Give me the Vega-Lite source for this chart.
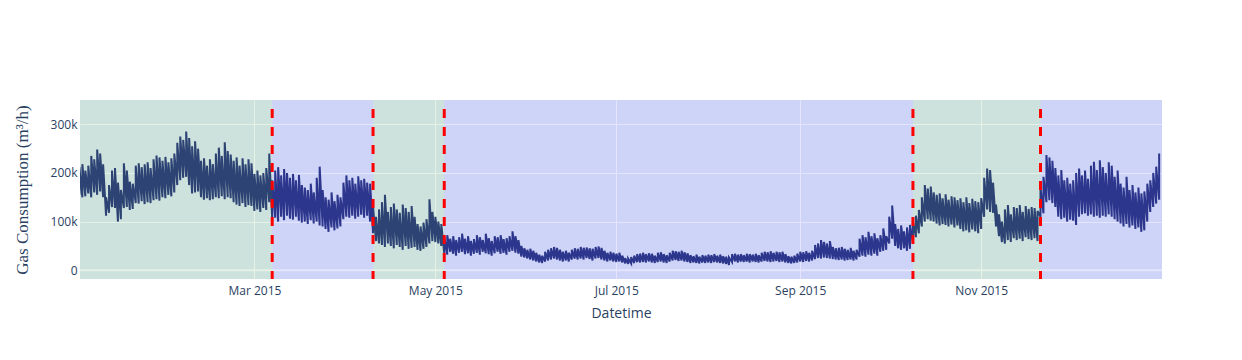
{
"$schema": "https://vega.github.io/schema/vega-lite/v6.json",
"autosize": "none",
"width": 1082,
"height": 179,
"padding": {"left": 80, "top": 100, "right": 80, "bottom": 81},
"background": "white",
"config": {
  "view": {"fill": "#E5ECF6", "stroke": null},
  "axis": {"labelFont": "Open Sans", "labelFontSize": 12, "labelColor": "#2a3f5f", "gridColor": "white", "gridWidth": 1, "domain": false, "ticks": false, "titleColor": "#2a3f5f", "titleFontWeight": "normal"},
  "axisX": {"labelPadding": 6, "titleFont": "Open Sans", "titleFontSize": 14, "titlePadding": 10},
  "axisY": {"labelPadding": 3, "titleFont": "Liberation Serif", "titleFontSize": 17, "titlePadding": 19}
},
"datasets": {
  "gas": [
{"d":"2015-01-01","l":155,"h":212},{"d":"2015-01-02","l":150,"h":218},{"d":"2015-01-03","l":152,"h":205},{"d":"2015-01-04","l":158,"h":215},{"d":"2015-01-05","l":150,"h":235},{"d":"2015-01-06","l":160,"h":228},{"d":"2015-01-07","l":155,"h":248},{"d":"2015-01-08","l":162,"h":240},{"d":"2015-01-09","l":150,"h":218},{"d":"2015-01-10","l":112,"h":150},{"d":"2015-01-11","l":118,"h":175},{"d":"2015-01-12","l":130,"h":205},{"d":"2015-01-13","l":128,"h":210},{"d":"2015-01-14","l":100,"h":180},{"d":"2015-01-15","l":105,"h":165},{"d":"2015-01-16","l":128,"h":220},{"d":"2015-01-17","l":130,"h":205},{"d":"2015-01-18","l":124,"h":182},{"d":"2015-01-19","l":126,"h":178},{"d":"2015-01-20","l":138,"h":215},{"d":"2015-01-21","l":137,"h":220},{"d":"2015-01-22","l":142,"h":212},{"d":"2015-01-23","l":136,"h":218},{"d":"2015-01-24","l":140,"h":222},{"d":"2015-01-25","l":138,"h":210},{"d":"2015-01-26","l":144,"h":228},{"d":"2015-01-27","l":146,"h":236},{"d":"2015-01-28","l":143,"h":232},{"d":"2015-01-29","l":150,"h":225},{"d":"2015-01-30","l":148,"h":233},{"d":"2015-01-31","l":155,"h":222},
{"d":"2015-02-01","l":152,"h":230},{"d":"2015-02-02","l":160,"h":240},{"d":"2015-02-03","l":175,"h":262},{"d":"2015-02-04","l":185,"h":275},{"d":"2015-02-05","l":190,"h":268},{"d":"2015-02-06","l":192,"h":285},{"d":"2015-02-07","l":175,"h":272},{"d":"2015-02-08","l":158,"h":255},{"d":"2015-02-09","l":160,"h":265},{"d":"2015-02-10","l":162,"h":250},{"d":"2015-02-11","l":150,"h":225},{"d":"2015-02-12","l":145,"h":230},{"d":"2015-02-13","l":148,"h":215},{"d":"2015-02-14","l":144,"h":228},{"d":"2015-02-15","l":146,"h":218},{"d":"2015-02-16","l":150,"h":240},{"d":"2015-02-17","l":148,"h":252},{"d":"2015-02-18","l":152,"h":235},{"d":"2015-02-19","l":146,"h":263},{"d":"2015-02-20","l":150,"h":245},{"d":"2015-02-21","l":148,"h":238},{"d":"2015-02-22","l":140,"h":225},{"d":"2015-02-23","l":135,"h":232},{"d":"2015-02-24","l":132,"h":215},{"d":"2015-02-25","l":138,"h":230},{"d":"2015-02-26","l":130,"h":218},{"d":"2015-02-27","l":134,"h":228},{"d":"2015-02-28","l":132,"h":220},
{"d":"2015-03-01","l":122,"h":198},{"d":"2015-03-02","l":125,"h":205},{"d":"2015-03-03","l":120,"h":195},{"d":"2015-03-04","l":128,"h":200},{"d":"2015-03-05","l":124,"h":210},{"d":"2015-03-06","l":140,"h":240},{"d":"2015-03-07","l":105,"h":185},{"d":"2015-03-08","l":108,"h":205},{"d":"2015-03-09","l":100,"h":212},{"d":"2015-03-10","l":110,"h":195},{"d":"2015-03-11","l":103,"h":208},{"d":"2015-03-12","l":112,"h":200},{"d":"2015-03-13","l":106,"h":190},{"d":"2015-03-14","l":104,"h":198},{"d":"2015-03-15","l":110,"h":185},{"d":"2015-03-16","l":102,"h":196},{"d":"2015-03-17","l":98,"h":175},{"d":"2015-03-18","l":100,"h":170},{"d":"2015-03-19","l":95,"h":165},{"d":"2015-03-20","l":103,"h":178},{"d":"2015-03-21","l":96,"h":160},{"d":"2015-03-22","l":100,"h":190},{"d":"2015-03-23","l":92,"h":213},{"d":"2015-03-24","l":90,"h":165},{"d":"2015-03-25","l":85,"h":150},{"d":"2015-03-26","l":79,"h":145},{"d":"2015-03-27","l":88,"h":160},{"d":"2015-03-28","l":82,"h":142},{"d":"2015-03-29","l":86,"h":155},{"d":"2015-03-30","l":90,"h":150},{"d":"2015-03-31","l":105,"h":180},
{"d":"2015-04-01","l":110,"h":195},{"d":"2015-04-02","l":108,"h":185},{"d":"2015-04-03","l":112,"h":190},{"d":"2015-04-04","l":106,"h":178},{"d":"2015-04-05","l":110,"h":193},{"d":"2015-04-06","l":114,"h":185},{"d":"2015-04-07","l":108,"h":188},{"d":"2015-04-08","l":112,"h":180},{"d":"2015-04-09","l":100,"h":178},{"d":"2015-04-10","l":76,"h":130},{"d":"2015-04-11","l":60,"h":110},{"d":"2015-04-12","l":55,"h":125},{"d":"2015-04-13","l":52,"h":140},{"d":"2015-04-14","l":48,"h":155},{"d":"2015-04-15","l":55,"h":120},{"d":"2015-04-16","l":50,"h":130},{"d":"2015-04-17","l":45,"h":137},{"d":"2015-04-18","l":52,"h":125},{"d":"2015-04-19","l":48,"h":118},{"d":"2015-04-20","l":42,"h":135},{"d":"2015-04-21","l":50,"h":128},{"d":"2015-04-22","l":44,"h":120},{"d":"2015-04-23","l":46,"h":132},{"d":"2015-04-24","l":48,"h":110},{"d":"2015-04-25","l":42,"h":95},{"d":"2015-04-26","l":40,"h":90},{"d":"2015-04-27","l":44,"h":98},{"d":"2015-04-28","l":48,"h":105},{"d":"2015-04-29","l":55,"h":146},{"d":"2015-04-30","l":60,"h":120},
{"d":"2015-05-01","l":58,"h":110},{"d":"2015-05-02","l":55,"h":100},{"d":"2015-05-03","l":50,"h":95},{"d":"2015-05-04","l":35,"h":68},{"d":"2015-05-05","l":32,"h":72},{"d":"2015-05-06","l":38,"h":65},{"d":"2015-05-07","l":34,"h":70},{"d":"2015-05-08","l":30,"h":62},{"d":"2015-05-09","l":36,"h":68},{"d":"2015-05-10","l":38,"h":75},{"d":"2015-05-11","l":33,"h":65},{"d":"2015-05-12","l":35,"h":70},{"d":"2015-05-13","l":30,"h":60},{"d":"2015-05-14","l":34,"h":64},{"d":"2015-05-15","l":36,"h":72},{"d":"2015-05-16","l":32,"h":68},{"d":"2015-05-17","l":38,"h":62},{"d":"2015-05-18","l":35,"h":75},{"d":"2015-05-19","l":33,"h":66},{"d":"2015-05-20","l":30,"h":60},{"d":"2015-05-21","l":35,"h":70},{"d":"2015-05-22","l":38,"h":68},{"d":"2015-05-23","l":34,"h":72},{"d":"2015-05-24","l":36,"h":64},{"d":"2015-05-25","l":32,"h":66},{"d":"2015-05-26","l":38,"h":70},{"d":"2015-05-27","l":40,"h":80},{"d":"2015-05-28","l":36,"h":70},{"d":"2015-05-29","l":34,"h":62},{"d":"2015-05-30","l":28,"h":50},{"d":"2015-05-31","l":26,"h":45},
{"d":"2015-06-01","l":24,"h":42},{"d":"2015-06-02","l":22,"h":44},{"d":"2015-06-03","l":20,"h":40},{"d":"2015-06-04","l":18,"h":36},{"d":"2015-06-05","l":16,"h":32},{"d":"2015-06-06","l":15,"h":30},{"d":"2015-06-07","l":18,"h":38},{"d":"2015-06-08","l":20,"h":42},{"d":"2015-06-09","l":22,"h":45},{"d":"2015-06-10","l":24,"h":48},{"d":"2015-06-11","l":22,"h":46},{"d":"2015-06-12","l":20,"h":42},{"d":"2015-06-13","l":18,"h":38},{"d":"2015-06-14","l":20,"h":40},{"d":"2015-06-15","l":18,"h":36},{"d":"2015-06-16","l":22,"h":42},{"d":"2015-06-17","l":24,"h":45},{"d":"2015-06-18","l":22,"h":44},{"d":"2015-06-19","l":24,"h":48},{"d":"2015-06-20","l":22,"h":46},{"d":"2015-06-21","l":25,"h":47},{"d":"2015-06-22","l":23,"h":45},{"d":"2015-06-23","l":20,"h":44},{"d":"2015-06-24","l":24,"h":48},{"d":"2015-06-25","l":25,"h":49},{"d":"2015-06-26","l":22,"h":46},{"d":"2015-06-27","l":20,"h":40},{"d":"2015-06-28","l":18,"h":36},{"d":"2015-06-29","l":20,"h":38},{"d":"2015-06-30","l":18,"h":36},
{"d":"2015-07-01","l":17,"h":34},{"d":"2015-07-02","l":18,"h":36},{"d":"2015-07-03","l":16,"h":30},{"d":"2015-07-04","l":14,"h":25},{"d":"2015-07-05","l":13,"h":24},{"d":"2015-07-06","l":14,"h":27},{"d":"2015-07-07","l":15,"h":30},{"d":"2015-07-08","l":17,"h":33},{"d":"2015-07-09","l":16,"h":34},{"d":"2015-07-10","l":17,"h":36},{"d":"2015-07-11","l":16,"h":33},{"d":"2015-07-12","l":18,"h":35},{"d":"2015-07-13","l":16,"h":34},{"d":"2015-07-14","l":15,"h":30},{"d":"2015-07-15","l":17,"h":36},{"d":"2015-07-16","l":18,"h":37},{"d":"2015-07-17","l":16,"h":33},{"d":"2015-07-18","l":15,"h":31},{"d":"2015-07-19","l":18,"h":36},{"d":"2015-07-20","l":20,"h":40},{"d":"2015-07-21","l":21,"h":39},{"d":"2015-07-22","l":19,"h":38},{"d":"2015-07-23","l":20,"h":40},{"d":"2015-07-24","l":18,"h":37},{"d":"2015-07-25","l":17,"h":35},{"d":"2015-07-26","l":15,"h":31},{"d":"2015-07-27","l":16,"h":29},{"d":"2015-07-28","l":15,"h":32},{"d":"2015-07-29","l":14,"h":28},{"d":"2015-07-30","l":16,"h":31},{"d":"2015-07-31","l":15,"h":30},
{"d":"2015-08-01","l":16,"h":32},{"d":"2015-08-02","l":15,"h":31},{"d":"2015-08-03","l":17,"h":33},{"d":"2015-08-04","l":16,"h":30},{"d":"2015-08-05","l":15,"h":32},{"d":"2015-08-06","l":14,"h":29},{"d":"2015-08-07","l":13,"h":28},{"d":"2015-08-08","l":11,"h":26},{"d":"2015-08-09","l":17,"h":33},{"d":"2015-08-10","l":18,"h":34},{"d":"2015-08-11","l":16,"h":32},{"d":"2015-08-12","l":18,"h":33},{"d":"2015-08-13","l":17,"h":31},{"d":"2015-08-14","l":18,"h":34},{"d":"2015-08-15","l":16,"h":33},{"d":"2015-08-16","l":18,"h":32},{"d":"2015-08-17","l":17,"h":34},{"d":"2015-08-18","l":16,"h":31},{"d":"2015-08-19","l":18,"h":36},{"d":"2015-08-20","l":19,"h":38},{"d":"2015-08-21","l":18,"h":37},{"d":"2015-08-22","l":17,"h":39},{"d":"2015-08-23","l":18,"h":36},{"d":"2015-08-24","l":19,"h":38},{"d":"2015-08-25","l":17,"h":37},{"d":"2015-08-26","l":18,"h":38},{"d":"2015-08-27","l":16,"h":33},{"d":"2015-08-28","l":15,"h":29},{"d":"2015-08-29","l":14,"h":28},{"d":"2015-08-30","l":15,"h":30},{"d":"2015-08-31","l":16,"h":34},
{"d":"2015-09-01","l":18,"h":38},{"d":"2015-09-02","l":17,"h":37},{"d":"2015-09-03","l":19,"h":39},{"d":"2015-09-04","l":18,"h":36},{"d":"2015-09-05","l":20,"h":40},{"d":"2015-09-06","l":23,"h":52},{"d":"2015-09-07","l":25,"h":55},{"d":"2015-09-08","l":24,"h":62},{"d":"2015-09-09","l":26,"h":58},{"d":"2015-09-10","l":25,"h":55},{"d":"2015-09-11","l":24,"h":60},{"d":"2015-09-12","l":23,"h":48},{"d":"2015-09-13","l":22,"h":45},{"d":"2015-09-14","l":21,"h":46},{"d":"2015-09-15","l":22,"h":48},{"d":"2015-09-16","l":20,"h":44},{"d":"2015-09-17","l":21,"h":42},{"d":"2015-09-18","l":22,"h":46},{"d":"2015-09-19","l":20,"h":40},{"d":"2015-09-20","l":22,"h":42},{"d":"2015-09-21","l":28,"h":65},{"d":"2015-09-22","l":30,"h":72},{"d":"2015-09-23","l":28,"h":68},{"d":"2015-09-24","l":32,"h":79},{"d":"2015-09-25","l":30,"h":70},{"d":"2015-09-26","l":34,"h":76},{"d":"2015-09-27","l":30,"h":66},{"d":"2015-09-28","l":38,"h":72},{"d":"2015-09-29","l":40,"h":86},{"d":"2015-09-30","l":42,"h":70},
{"d":"2015-10-01","l":55,"h":110},{"d":"2015-10-02","l":65,"h":133},{"d":"2015-10-03","l":50,"h":95},{"d":"2015-10-04","l":45,"h":85},{"d":"2015-10-05","l":42,"h":92},{"d":"2015-10-06","l":45,"h":80},{"d":"2015-10-07","l":40,"h":88},{"d":"2015-10-08","l":44,"h":93},{"d":"2015-10-09","l":55,"h":100},{"d":"2015-10-10","l":68,"h":112},{"d":"2015-10-11","l":76,"h":124},{"d":"2015-10-12","l":90,"h":150},{"d":"2015-10-13","l":100,"h":175},{"d":"2015-10-14","l":105,"h":168},{"d":"2015-10-15","l":102,"h":172},{"d":"2015-10-16","l":100,"h":160},{"d":"2015-10-17","l":96,"h":155},{"d":"2015-10-18","l":92,"h":158},{"d":"2015-10-19","l":95,"h":148},{"d":"2015-10-20","l":93,"h":156},{"d":"2015-10-21","l":90,"h":145},{"d":"2015-10-22","l":94,"h":152},{"d":"2015-10-23","l":88,"h":150},{"d":"2015-10-24","l":92,"h":144},{"d":"2015-10-25","l":85,"h":148},{"d":"2015-10-26","l":80,"h":140},{"d":"2015-10-27","l":82,"h":150},{"d":"2015-10-28","l":78,"h":138},{"d":"2015-10-29","l":84,"h":147},{"d":"2015-10-30","l":80,"h":142},{"d":"2015-10-31","l":76,"h":140},
{"d":"2015-11-01","l":85,"h":148},{"d":"2015-11-02","l":110,"h":190},{"d":"2015-11-03","l":125,"h":209},{"d":"2015-11-04","l":120,"h":206},{"d":"2015-11-05","l":118,"h":180},{"d":"2015-11-06","l":90,"h":135},{"d":"2015-11-07","l":70,"h":115},{"d":"2015-11-08","l":58,"h":100},{"d":"2015-11-09","l":55,"h":125},{"d":"2015-11-10","l":62,"h":134},{"d":"2015-11-11","l":58,"h":115},{"d":"2015-11-12","l":66,"h":130},{"d":"2015-11-13","l":62,"h":128},{"d":"2015-11-14","l":65,"h":134},{"d":"2015-11-15","l":60,"h":120},{"d":"2015-11-16","l":68,"h":132},{"d":"2015-11-17","l":64,"h":126},{"d":"2015-11-18","l":62,"h":130},{"d":"2015-11-19","l":66,"h":128},{"d":"2015-11-20","l":60,"h":122},{"d":"2015-11-21","l":110,"h":170},{"d":"2015-11-22","l":117,"h":192},{"d":"2015-11-23","l":140,"h":237},{"d":"2015-11-24","l":144,"h":232},{"d":"2015-11-25","l":138,"h":225},{"d":"2015-11-26","l":130,"h":210},{"d":"2015-11-27","l":110,"h":195},{"d":"2015-11-28","l":105,"h":206},{"d":"2015-11-29","l":108,"h":185},{"d":"2015-11-30","l":100,"h":190},
{"d":"2015-12-01","l":104,"h":178},{"d":"2015-12-02","l":102,"h":185},{"d":"2015-12-03","l":93,"h":200},{"d":"2015-12-04","l":110,"h":209},{"d":"2015-12-05","l":115,"h":195},{"d":"2015-12-06","l":117,"h":205},{"d":"2015-12-07","l":112,"h":188},{"d":"2015-12-08","l":115,"h":215},{"d":"2015-12-09","l":110,"h":223},{"d":"2015-12-10","l":112,"h":206},{"d":"2015-12-11","l":108,"h":226},{"d":"2015-12-12","l":112,"h":212},{"d":"2015-12-13","l":110,"h":200},{"d":"2015-12-14","l":115,"h":222},{"d":"2015-12-15","l":110,"h":215},{"d":"2015-12-16","l":105,"h":192},{"d":"2015-12-17","l":100,"h":205},{"d":"2015-12-18","l":96,"h":178},{"d":"2015-12-19","l":90,"h":170},{"d":"2015-12-20","l":95,"h":192},{"d":"2015-12-21","l":88,"h":165},{"d":"2015-12-22","l":92,"h":175},{"d":"2015-12-23","l":85,"h":160},{"d":"2015-12-24","l":88,"h":170},{"d":"2015-12-25","l":79,"h":158},{"d":"2015-12-26","l":82,"h":162},{"d":"2015-12-27","l":100,"h":178},{"d":"2015-12-28","l":120,"h":185},{"d":"2015-12-29","l":130,"h":200},{"d":"2015-12-30","l":137,"h":213},{"d":"2015-12-31","l":145,"h":240}
  ],
  "regions": [
    {"s":"2014-12-31","e":"2015-03-07","c":"g"},
    {"s":"2015-03-07","e":"2015-04-10","c":"b"},
    {"s":"2015-04-10","e":"2015-05-04","c":"g"},
    {"s":"2015-05-04","e":"2015-10-09","c":"b"},
    {"s":"2015-10-09","e":"2015-11-21","c":"g"},
    {"s":"2015-11-21","e":"2016-01-02","c":"b"}
  ],
  "splits": [
    {"t":"2015-03-07"},{"t":"2015-04-10"},{"t":"2015-05-04"},{"t":"2015-10-09"},{"t":"2015-11-21"}
  ],
  "zero": [{"z":0}]
},
"layer": [
  {
    "data": {"name": "zero"},
    "mark": {"type": "rule", "color": "white", "strokeWidth": 2},
    "encoding": {
      "y": {"field": "z", "type": "quantitative", "scale": {"domain": [-18, 350], "nice": false, "zero": false},
            "axis": {"title": "Gas Consumption (m³/h)", "values": [0, 100, 200, 300], "labelExpr": "datum.value == 0 ? '0' : datum.value + 'k'"}}
    }
  },
  {
    "data": {"name": "gas"},
    "transform": [{"fold": ["l", "h"], "as": ["k", "v"]}],
    "mark": {"type": "line", "color": "#323d80", "strokeWidth": 2, "clip": true},
    "encoding": {
      "x": {"field": "d", "type": "temporal",
            "scale": {"type": "utc", "domain": [{"year": 2015, "month": 1, "date": 1, "hours": 5, "utc": true}, {"year": 2015, "month": 12, "date": 31, "hours": 23, "utc": true}]},
            "axis": {"title": "Datetime", "values": [{"year": 2015, "month": 3, "date": 1, "utc": true}, {"year": 2015, "month": 5, "date": 1, "utc": true}, {"year": 2015, "month": 7, "date": 1, "utc": true}, {"year": 2015, "month": 9, "date": 1, "utc": true}, {"year": 2015, "month": 11, "date": 1, "utc": true}], "labelExpr": "utcFormat(datum.value, '%b %Y')"}},
      "y": {"field": "v", "type": "quantitative", "scale": {"domain": [-18, 350], "nice": false, "zero": false},
            "axis": {"title": "Gas Consumption (m³/h)", "values": [0, 100, 200, 300], "labelExpr": "datum.value == 0 ? '0' : datum.value + 'k'"}}
    }
  },
  {
    "data": {"name": "regions"},
    "mark": {"type": "rect", "opacity": 0.1, "clip": true},
    "encoding": {
      "x": {"field": "s", "type": "temporal",
            "axis": {"title": "Datetime", "values": [{"year": 2015, "month": 3, "date": 1, "utc": true}, {"year": 2015, "month": 5, "date": 1, "utc": true}, {"year": 2015, "month": 7, "date": 1, "utc": true}, {"year": 2015, "month": 9, "date": 1, "utc": true}, {"year": 2015, "month": 11, "date": 1, "utc": true}], "labelExpr": "utcFormat(datum.value, '%b %Y')"}},
      "x2": {"field": "e"},
      "color": {"field": "c", "type": "nominal", "scale": {"domain": ["g", "b"], "range": ["#008000", "#0000ff"]}, "legend": null}
    }
  },
  {
    "data": {"name": "splits"},
    "mark": {"type": "rule", "color": "#ff0000", "strokeWidth": 3, "strokeDash": [9, 9], "strokeDashOffset": 9},
    "encoding": {
      "x": {"field": "t", "type": "temporal",
            "axis": {"title": "Datetime", "values": [{"year": 2015, "month": 3, "date": 1, "utc": true}, {"year": 2015, "month": 5, "date": 1, "utc": true}, {"year": 2015, "month": 7, "date": 1, "utc": true}, {"year": 2015, "month": 9, "date": 1, "utc": true}, {"year": 2015, "month": 11, "date": 1, "utc": true}], "labelExpr": "utcFormat(datum.value, '%b %Y')"}}
    }
  }
]
}
